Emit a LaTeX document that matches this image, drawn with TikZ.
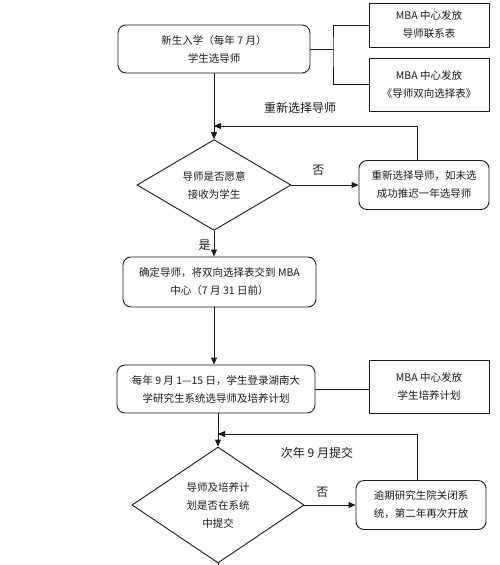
\documentclass[tikz,border=0pt]{standalone}
\usepackage{fontspec}
\setmainfont{Noto Sans CJK SC}
\usepackage{tikz}
\usetikzlibrary{arrows.meta,positioning,shapes.geometric,calc}
\definecolor{inkblack}{RGB}{25,25,25}
\tikzset{
  base/.style={font=\fontsize{10.5}{18}\selectfont, align=center, inner sep=0pt, text=inkblack},
  box/.style={base, rectangle, draw=inkblack, fill=white, line width=0.9pt},
  rbox/.style={box, rounded corners=8pt},
  dec/.style={base, diamond, draw=inkblack, fill=white, line width=0.9pt},
  arr/.style={-{Triangle[length=7pt,width=6pt]}, line width=0.9pt, draw=inkblack},
  link/.style={line width=0.9pt, draw=inkblack},
  lbl/.style={font=\fontsize{12}{14}\selectfont, text=inkblack, inner sep=1pt},
}
\begin{document}
\begin{tikzpicture}[x=1pt,y=-1pt]
  \useasboundingbox (0,0) rectangle (500,565);
  \coordinate (axisA) at (214,0);
  \node[rbox,minimum width=192pt,minimum height=48pt] (start) at (214,49) {新生入学（每年 7 月）\\学生选导师};
  \node[box,minimum width=120pt,minimum height=44pt] (mc1) at (429,25) {MBA 中心发放\\导师联系表};
  \node[box,minimum width=120pt,minimum height=53pt] (mc2) at (429,84.5) {MBA 中心发放\\《导师双向选择表》};
  \coordinate (jn) at (333,49);
  \draw[link] (start.east) -- (jn);
  \draw[link] (mc1.west) -| (jn) |- (mc2.west);
  \node[dec,minimum width=154pt,minimum height=83pt] (dec1) at (214,185) {导师是否愿意\\接收为学生};
  \draw[arr] (axisA |- start.south) -- (dec1.north);
  \node[rbox,minimum width=130pt,minimum height=49pt] (retry) at (424,185) {重新选择导师，如未选\\成功推迟一年选导师};
  \draw[arr] (dec1.east) -- (retry.west) node[pos=0.4,lbl,above=8pt]{否};
  \coordinate (back1) at (417,126);
  \draw[arr] (back1 |- retry.north) -- (back1) -- (axisA |- back1);
  \node[lbl] (relbl) at (300,108) {重新选择导师};
  \node[rbox,minimum width=193pt,minimum height=50pt] (confirm) at (219.5,282) {确定导师，将双向选择表交到 MBA\\中心（7 月 31 日前）};
  \draw[arr] (dec1.south) -- (dec1.south |- confirm.north) node[pos=0.55,lbl,left=2pt]{是};
  \node[rbox,minimum width=198pt,minimum height=48pt] (login) at (216,389) {每年 9 月 1—15 日，学生登录湖南大\\学研究生系统选导师及培养计划};
  \draw[arr] (axisA |- confirm.south) -- (axisA |- login.north);
  \node[box,minimum width=120pt,minimum height=53pt] (mc3) at (429,386.5) {MBA 中心发放\\学生培养计划};
  \draw[link] (login.east) -- (login.east -| mc3.west);
  \node[dec,minimum width=172pt,minimum height=116pt] (dec2) at (218,505) {导师及培养计\\划是否在系统\\中提交};
  \draw[arr] (dec2.north |- login.south) -- (dec2.north);
  \node[rbox,minimum width=130pt,minimum height=49pt] (late) at (421,505) {逾期研究生院关闭系\\统，第二年再次开放};
  \draw[arr] (dec2.east) -- (late.west) node[pos=0.35,lbl,above=6pt]{否};
  \coordinate (back2) at (417,434);
  \draw[arr] (back2 |- late.north) -- (back2) -- (dec2.north |- back2);
  \node[lbl] (nextlbl) at (317,453) {次年 9 月提交};
  \coordinate (tail) at (218,565);
  \draw[link] (dec2.south) -- (tail);
\end{tikzpicture}
\end{document}
